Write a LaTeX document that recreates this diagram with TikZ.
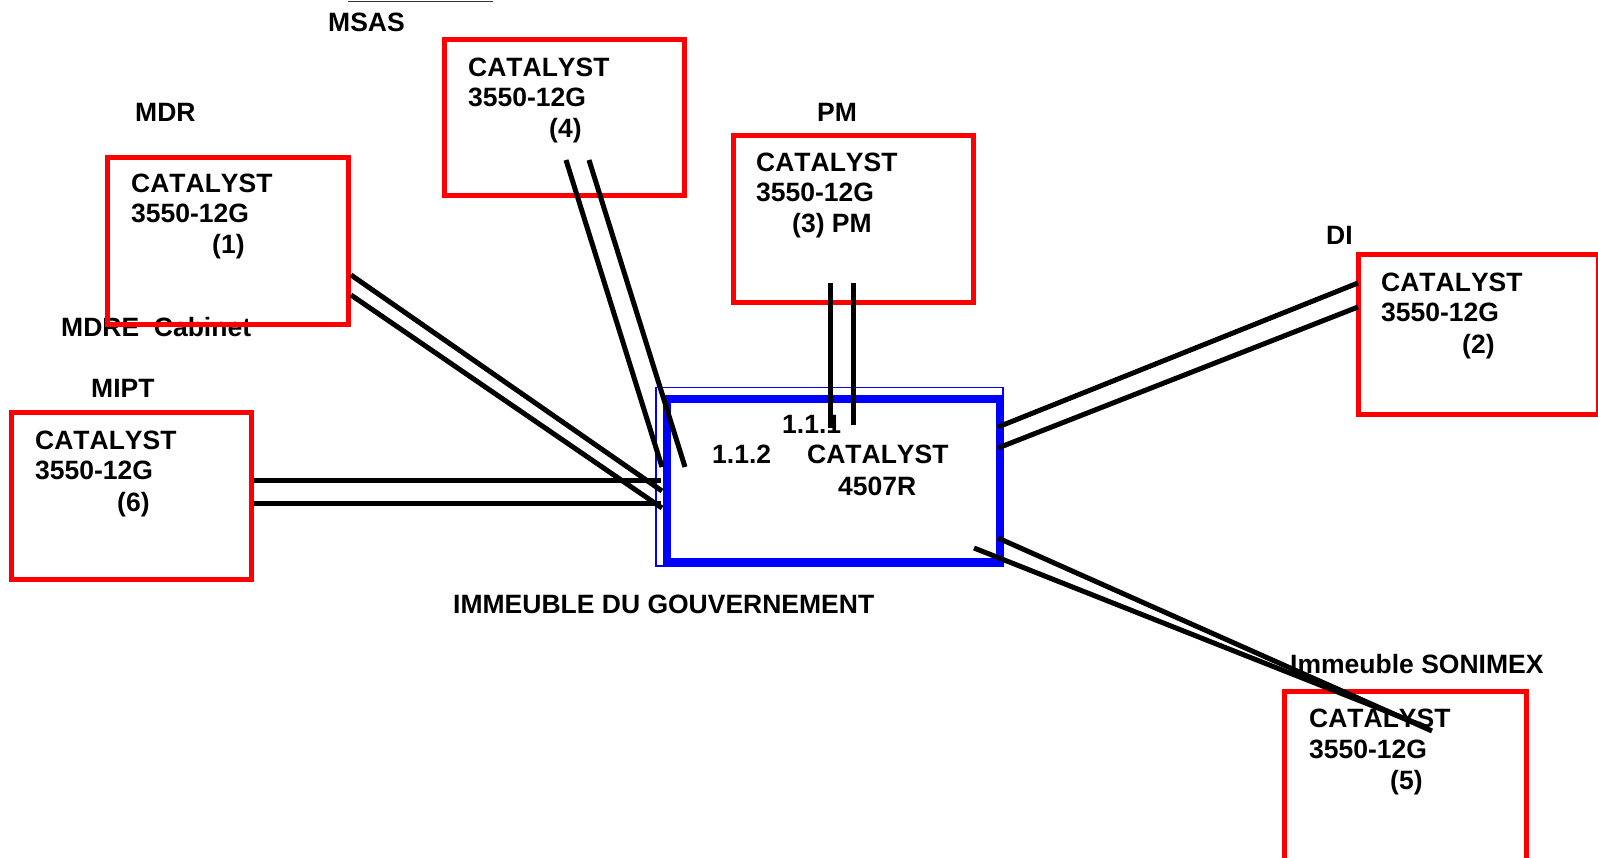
\documentclass[tikz,border=0pt]{standalone}
\usepackage{fontspec}
\setmainfont[Kerning=Off]{Liberation Sans}
\begin{document}
\begin{tikzpicture}[x=1pt,y=-1pt,
  redbox/.style={draw=red, line width=5pt, inner sep=0pt, anchor=north west},
  wire/.style={draw=black, line width=5pt},
  lbl/.style={font=\fontsize{26.5}{30}\selectfont\bfseries, inner sep=0pt, anchor=base west}]
\useasboundingbox[fill=white] (0,0) rectangle (1598,858);
% top remnant underline
\coordinate (u1) at (348,1.5); \coordinate (u2) at (493,1.5);
\draw[line width=1.5pt, black!80] (u1) -- (u2);
% labels
\node[lbl] (tmsas) at (328,32) {MSAS};
\node[lbl] (tmdr) at (135,122) {MDR};
\node[lbl] (tpm) at (817,122) {PM};
\node[lbl] (tdi) at (1326,245) {DI};
\node[lbl] (tmdre) at (61,337) {MDRE\ \ Cabinet};
\node[lbl] (tmipt) at (91,398) {MIPT};
\node[lbl] (tson) at (1290,673) {Immeuble SONIMEX};
\node[lbl] (tgov) at (453,613) {IMMEUBLE DU GOUVERNEMENT};
% red boxes
\node[redbox, minimum width=240pt, minimum height=156pt] (b4) at (441.5,37.5) {};
\node[redbox, minimum width=241pt, minimum height=167pt] (b1) at (104.5,155) {};
\node[redbox, minimum width=240pt, minimum height=167pt] (b3) at (730.5,133) {};
\node[redbox, minimum width=240pt, minimum height=160pt] (b2) at (1355.5,252) {};
\node[redbox, minimum width=240pt, minimum height=167pt] (b6) at (8.5,410) {};
\node[redbox, minimum width=242pt, minimum height=210pt] (b5) at (1281.5,689) {};
% box texts
\node[lbl] (b4a) at (468,77) {CATALYST};
\node[lbl] (b4b) at (468,107) {3550-12G};
\node[lbl] (b4c) at (549,138) {(4)};
\node[lbl] (b1a) at (131,193) {CATALYST};
\node[lbl] (b1b) at (131,223) {3550-12G};
\node[lbl] (b1c) at (212,254) {(1)};
\node[lbl] (b3a) at (756,172) {CATALYST};
\node[lbl] (b3b) at (756,202) {3550-12G};
\node[lbl] (b3c) at (792,233) {(3) PM};
\node[lbl] (b2a) at (1381,292) {CATALYST};
\node[lbl] (b2b) at (1381,322) {3550-12G};
\node[lbl] (b2c) at (1462,354) {(2)};
\node[lbl] (b6a) at (35,449) {CATALYST};
\node[lbl] (b6b) at (35,479) {3550-12G};
\node[lbl] (b6c) at (117,511) {(6)};
\node[lbl] (b5a) at (1309,727) {CATALYST};
\node[lbl] (b5b) at (1309,758) {3550-12G};
\node[lbl] (b5c) at (1390,789) {(5)};
% central box
\draw[blue, line width=1.5pt] (656,387.5) rectangle (1003,566);
\node[draw=blue, line width=8pt, inner sep=0pt, anchor=north west,
  minimum width=333pt, minimum height=163.5pt] (c) at (663,394.5) {};
\node[lbl] (c1) at (782,433) {1.1.1};
\node[lbl] (c2) at (712,463) {1.1.2};
\node[lbl] (c3) at (807,463) {CATALYST};
\node[lbl] (c4) at (838,495) {4507R};
% connector end points
\coordinate (p4a) at (566,160); \coordinate (q4a) at (662,467);
\coordinate (p4b) at (589,160); \coordinate (q4b) at (685,467);
\coordinate (p1a) at (351,275); \coordinate (q1a) at (662,491);
\coordinate (p1b) at (351,295); \coordinate (q1b) at (662,508);
\coordinate (p6a) at (254,480); \coordinate (q6a) at (661,480);
\coordinate (p6b) at (254,503); \coordinate (q6b) at (661,503);
\coordinate (p3a) at (830,283); \coordinate (q3a) at (830,428);
\coordinate (p3b) at (853,283); \coordinate (q3b) at (853,425);
\coordinate (p2a) at (1358,283); \coordinate (q2a) at (998,427);
\coordinate (p2b) at (1358,307); \coordinate (q2b) at (998,448);
\coordinate (p5a) at (1432,731); \coordinate (q5a) at (998,538);
\coordinate (p5b) at (1426,727); \coordinate (q5b) at (974,548);
% connectors
\draw[wire] (p4a) -- (q4a);
\draw[wire] (p4b) -- (q4b);
\draw[wire] (p1a) -- (q1a);
\draw[wire] (p1b) -- (q1b);
\draw[wire] (p6a) -- (q6a);
\draw[wire] (p6b) -- (q6b);
\draw[wire] (p3a) -- (q3a);
\draw[wire] (p3b) -- (q3b);
\draw[wire] (p2a) -- (q2a);
\draw[wire] (p2b) -- (q2b);
\draw[wire] (p5a) -- (q5a);
\draw[wire] (p5b) -- (q5b);
\end{tikzpicture}
\end{document}
